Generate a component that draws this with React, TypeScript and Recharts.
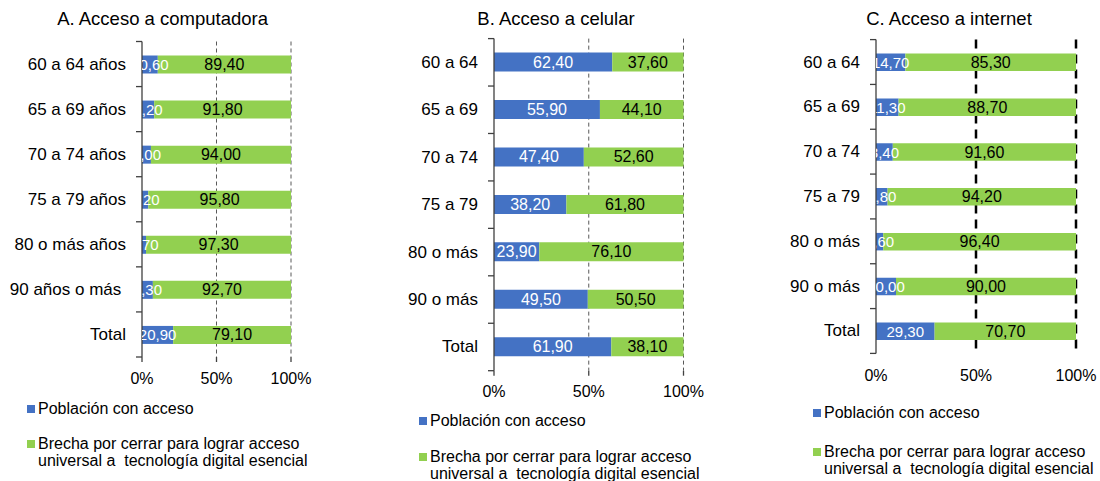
import React from 'react';
import { BarChart, Bar, XAxis, YAxis, CartesianGrid, LabelList } from 'recharts';

const BLUE = '#4472C4';
const GREEN = '#92D050';
const AXIS = '#404040';
const FONT = '"Liberation Sans", Arial, sans-serif';
const H = 481;

// A. Acceso a computadora
const catsA = ['60 a 64 años', '65 a 69 años', '70 a 74 años', '75 a 79 años', '80 o más años', '90 años o más ', 'Total'];
const accessA = [10.6, 8.2, 6.0, 4.2, 2.7, 7.3, 20.9];
const gapA = [89.4, 91.8, 94.0, 95.8, 97.3, 92.7, 79.1];

// B. Acceso a celular
const catsB = ['60 a 64', '65 a 69', '70 a 74', '75 a 79', '80 o más', '90 o más', 'Total'];
const accessB = [62.4, 55.9, 47.4, 38.2, 23.9, 49.5, 61.9];
const gapB = [37.6, 44.1, 52.6, 61.8, 76.1, 50.5, 38.1];

// C. Acceso a internet
const catsC = ['60 a 64', '65 a 69', '70 a 74', '75 a 79', '80 o más', '90 o más', 'Total'];
const accessC = [14.7, 11.3, 8.4, 5.8, 3.6, 10.0, 29.3];
const gapC = [85.3, 88.7, 91.6, 94.2, 96.4, 90.0, 70.7];

const xTicks = [0, 50, 100];
const legendBlue = 'Población con acceso';
const legendGreen1 = 'Brecha por cerrar para lograr acceso';
const legendGreen2 = 'universal a  tecnología digital esencial';

const fmt = (v: any) => Number(v).toFixed(2).replace('.', ',');

interface Panel {
    id: string;
    title: string;
    titleX: number;
    left: number;
    width: number;
    top: number;
    bottom: number;
    plotLeft: number;
    plotRight: number;
    barSize: number;
    cats: string[];
    access: number[];
    gap: number[];
    gridColor: string;
    gridWidth: number;
    gridDash: string;
    xTickLine: boolean;
    tickMargin: number;
    blueFont: number;
    legX: number;
    legBlueTop: number;
    legGreenTop: number;
}

const panels: Panel[] = [
    {
        id: 'A', title: 'A. Acceso a computadora', titleX: 162.6,
        left: 0, width: 370, top: 41.5, bottom: 357, plotLeft: 142, plotRight: 291, barSize: 18,
        cats: catsA, access: accessA, gap: gapA,
        gridColor: '#595959', gridWidth: 1, gridDash: '4 3', xTickLine: true, tickMargin: 11, blueFont: 15,
        legX: 27, legBlueTop: 400, legGreenTop: 435,
    },
    {
        id: 'B', title: 'B. Acceso a celular', titleX: 556,
        left: 370, width: 380, top: 38.6, bottom: 370.7, plotLeft: 494, plotRight: 683.5, barSize: 19,
        cats: catsB, access: accessB, gap: gapB,
        gridColor: '#595959', gridWidth: 1, gridDash: '4 3', xTickLine: true, tickMargin: 9.6, blueFont: 16,
        legX: 419, legBlueTop: 411.7, legGreenTop: 447.6,
    },
    {
        id: 'C', title: 'C. Acceso a internet', titleX: 949,
        left: 750, width: 350, top: 39.6, bottom: 353.4, plotLeft: 876, plotRight: 1076, barSize: 17.5,
        cats: catsC, access: accessC, gap: gapC,
        gridColor: '#000000', gridWidth: 2.5, gridDash: '9 6', xTickLine: false, tickMargin: 11, blueFont: 15,
        legX: 813, legBlueTop: 404, legGreenTop: 442.6,
    },
];

const boxOf = (props: any) => {
    const vb = props.viewBox || {};
    return {
        x: Number(vb.x ?? props.x),
        y: Number(vb.y ?? props.y),
        width: Number(vb.width ?? props.width),
        height: Number(vb.height ?? props.height),
    };
};

const PanelChart: React.FC<{ p: Panel }> = ({ p }) => {
    const data = p.cats.map((c, i) => ({ cat: c, access: p.access[i], gap: p.gap[i] }));
    const n = p.cats.length;
    const band = (p.bottom - p.top) / n;
    const yW = p.plotLeft - p.left;
    const xH = 30;

    const catTick = (props: any) => {
        const { x, y, payload, index } = props;
        return (
            <g>
                <text x={x - 16} y={y} textAnchor="end" dominantBaseline="central" style={{ whiteSpace: 'pre' }}
                    fontSize={17} fill="#000" fontFamily={FONT}>{payload.value}</text>
                <line x1={x - 6} x2={x} y1={y - band / 2} y2={y - band / 2} stroke={AXIS} strokeWidth={1.3} />
                {index === n - 1 && (
                    <line x1={x - 6} x2={x} y1={y + band / 2} y2={y + band / 2} stroke={AXIS} strokeWidth={1.3} />
                )}
            </g>
        );
    };

    const greenLabel = (props: any) => {
        const b = boxOf(props);
        return (
            <text x={b.x + b.width / 2} y={b.y + b.height / 2} textAnchor="middle" dominantBaseline="central"
                fontSize={16} fill="#000" fontFamily={FONT}>{fmt(props.value)}</text>
        );
    };

    const blueLabel = (props: any) => {
        const b = boxOf(props);
        const cid = `clip-${p.id}-${props.index}`;
        return (
            <g>
                <clipPath id={cid}>
                    <rect x={yW} y={0} width={p.width} height={H} />
                </clipPath>
                <text x={(yW + b.x) / 2} y={b.y + b.height / 2} textAnchor="middle" dominantBaseline="central"
                    fontSize={p.blueFont} fill="#fff" fontFamily={FONT} clipPath={`url(#${cid})`}>{fmt(props.value)}</text>
            </g>
        );
    };

    return (
        <div style={{ position: 'absolute', left: p.left, top: 0 }}>
            <BarChart
                width={p.width}
                height={H}
                data={data}
                layout="vertical"
                barSize={p.barSize}
                margin={{ top: p.top, right: p.left + p.width - p.plotRight, bottom: H - p.bottom - xH, left: 0 }}
            >
                <CartesianGrid horizontal={false} verticalValues={[50, 100]} stroke={p.gridColor}
                    strokeWidth={p.gridWidth} strokeDasharray={p.gridDash} />
                <XAxis
                    type="number"
                    domain={[0, 100]}
                    ticks={xTicks}
                    tickFormatter={(v) => `${v}%`}
                    axisLine={false}
                    tickLine={{ stroke: p.xTickLine ? AXIS : 'none', strokeWidth: 1.3 }}
                    tickSize={5}
                    tickMargin={p.tickMargin}
                    height={xH}
                    tick={{ fontSize: 16, fill: '#000', fontFamily: FONT }}
                />
                <YAxis
                    type="category"
                    dataKey="cat"
                    width={yW}
                    interval={0}
                    axisLine={{ stroke: AXIS, strokeWidth: 1.3 }}
                    tickLine={false}
                    tickSize={0}
                    tickMargin={0}
                    tick={catTick}
                />
                <Bar dataKey="access" stackId="s" fill={BLUE} isAnimationActive={false} />
                <Bar dataKey="gap" stackId="s" fill={GREEN} isAnimationActive={false}>
                    <LabelList dataKey="gap" content={greenLabel} />
                    <LabelList dataKey="access" content={blueLabel} />
                </Bar>
            </BarChart>
        </div>
    );
};

const textStyle: React.CSSProperties = {
    position: 'absolute',
    fontSize: 16,
    lineHeight: '17px',
    color: '#000',
    whiteSpace: 'pre',
};

const PanelText: React.FC<{ p: Panel }> = ({ p }) => (
    <>
        <div style={{ position: 'absolute', left: p.titleX - 150, top: 9, width: 300, textAlign: 'center',
            fontSize: 18.5, lineHeight: '20px', color: '#000' }}>{p.title}</div>
        <div style={{ position: 'absolute', left: p.legX, top: p.legBlueTop + 5, width: 8, height: 8, background: BLUE }} />
        <div style={{ ...textStyle, left: p.legX + 11, top: p.legBlueTop }}>{legendBlue}</div>
        <div style={{ position: 'absolute', left: p.legX, top: p.legGreenTop + 5, width: 8, height: 8, background: GREEN }} />
        <div style={{ ...textStyle, left: p.legX + 11, top: p.legGreenTop }}>{legendGreen1}{'\n'}{legendGreen2}</div>
    </>
);

export default function App() {
    return (
        <div style={{ position: 'absolute', left: 0, top: 0, width: 1100, height: H, background: '#fff', fontFamily: FONT, overflow: 'hidden' }}>
            {panels.map((p) => (
                <React.Fragment key={p.id}>
                    <PanelChart p={p} />
                    <PanelText p={p} />
                </React.Fragment>
            ))}
        </div>
    );
}
